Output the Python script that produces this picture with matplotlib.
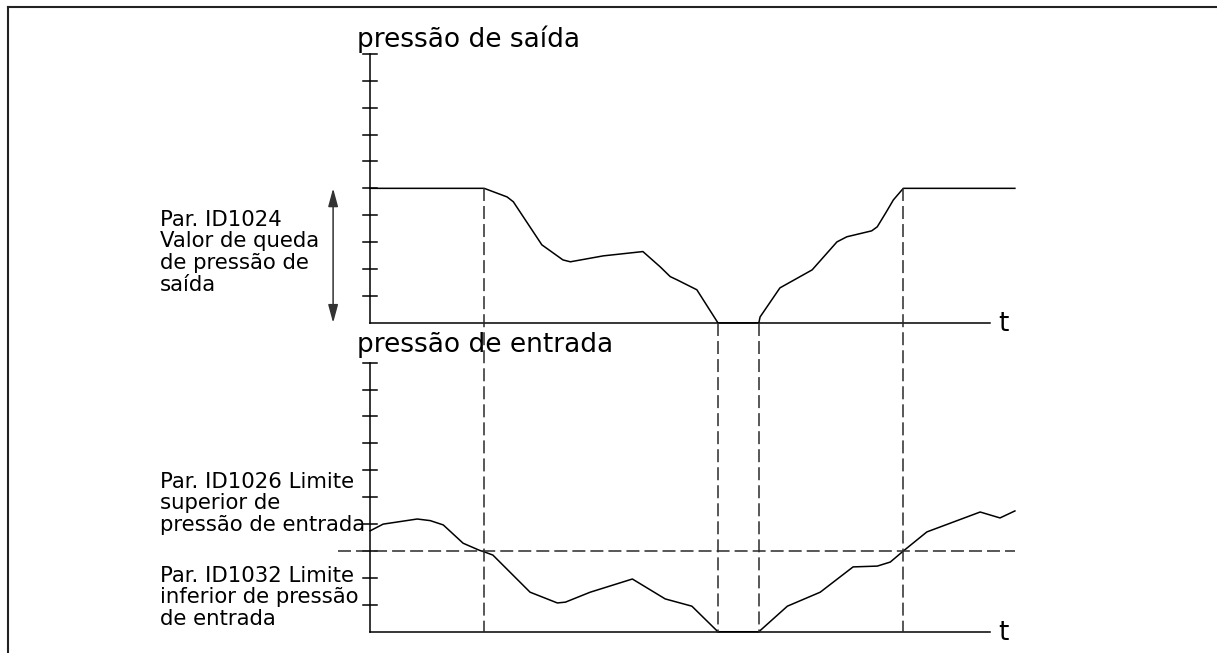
import matplotlib
matplotlib.use('Agg')
import matplotlib.pyplot as plt
from matplotlib.lines import Line2D

# time in units of the t-axis (0..100), pressure in tick units (0..10)
t_outlet = [0, 18.4, 22.1, 23.1, 27.7, 31.1, 32.3, 37.6, 44.0, 46.8, 48.4,
            49.5, 52.7, 56.1, 62.7, 62.9, 66.1, 71.3, 75.3, 76.9, 80.9,
            81.8, 83.2, 84.4, 86.0, 104.0]
outlet_pressure = [5.0, 5.0, 4.68, 4.5, 2.9, 2.34, 2.27, 2.49, 2.65, 2.08, 1.72,
                   1.6, 1.23, 0.0, 0.0, 0.22, 1.30, 1.97, 3.01, 3.2, 3.42,
                   3.57, 4.1, 4.57, 5.0, 5.0]

t_inlet = [0, 2.1, 7.6, 9.7, 11.8, 15.0, 17.7, 18.4, 19.8, 25.8, 30.2, 31.5,
           35.5, 42.3, 47.6, 51.9, 56.1, 62.7, 67.3, 72.6, 77.9, 81.8, 83.9,
           86.0, 89.8, 98.4, 101.6, 104.0]
inlet_pressure = [3.75, 4.0, 4.19, 4.13, 3.97, 3.29, 3.02, 2.97, 2.85, 1.47, 1.07,
                  1.10, 1.47, 1.96, 1.22, 0.95, 0.0, 0.0, 0.95, 1.47, 2.41, 2.44,
                  2.59, 3.0, 3.71, 4.45, 4.23, 4.49]

event_times = [18.4, 56.1, 62.7, 86.0]
outlet_level = 5.0
inlet_limit = 3.0
tick_values = list(range(1, 11))
top_base = 11.48  # vertical offset of the upper diagram

fig = plt.figure(figsize=(12.17, 6.53), dpi=100)
ax = fig.add_axes([0, 0, 1, 1])
ax.set_xlim(-59.7, 136.6)
ax.set_ylim(-0.79, 23.48)
ax.axis('off')

lw = 1.1
dash = dict(color='#2a2a2a', lw=lw, dashes=[8.5, 3.3])

# axes of both diagrams
for base in (0, top_base):
    ax.plot([0, 0], [base, base + 10], color='black', lw=lw)
    ax.plot([0, 100], [base, base], color='black', lw=lw)
    for k in tick_values:
        ax.plot([-1.13, 1.13], [base + k, base + k], color='black', lw=lw)
    ax.text(101.3, base - 0.32, 't', fontsize=19, ha='left', va='baseline')

# curves
ax.plot(t_outlet, [top_base + p for p in outlet_pressure], color='black', lw=lw)
ax.plot(t_inlet, inlet_pressure, color='black', lw=lw)

# dashed guides
ax.plot([-5.16, 104.0], [inlet_limit, inlet_limit], **dash)
for i, t in enumerate(event_times):
    start = top_base + outlet_level if i in (0, 3) else top_base
    ax.plot([t, t], [start, 0], **dash)

# double arrow for the pressure drop
ax.annotate('', xy=(-5.97, top_base + outlet_level), xytext=(-5.97, top_base),
            arrowprops=dict(arrowstyle='<|-|>,head_length=0.55,head_width=0.15',
                            mutation_scale=20, color='#333333', lw=1.1,
                            shrinkA=0, shrinkB=0))

# titles
ax.text(-2.1, top_base + 10.26, 'pressão de saída', fontsize=19, va='baseline')
ax.text(-2.1, 10.41, 'pressão de entrada', fontsize=19, va='baseline')

# parameter labels (anchored on the baseline of the last line)
ax.text(-33.9, top_base + 1.20, 'Par. ID1024\nValor de queda\nde pressão de\nsaída',
        fontsize=15.3, va='baseline', linespacing=1.1)
ax.text(-33.9, 3.75, 'Par. ID1026 Limite\nsuperior de\npressão de entrada',
        fontsize=15.3, va='baseline', linespacing=1.1)
ax.text(-33.9, 0.25, 'Par. ID1032 Limite\ninferior de pressão\nde entrada',
        fontsize=15.3, va='baseline', linespacing=1.1)

# frame
fig.add_artist(Line2D([8 / 1217, 1], [1 - 7 / 653, 1 - 7 / 653],
                      transform=fig.transFigure, color='#222222', lw=1.5))
fig.add_artist(Line2D([8 / 1217, 8 / 1217], [0, 1 - 7 / 653],
                      transform=fig.transFigure, color='#222222', lw=1.5))

fig.savefig('out.png', dpi=100)
